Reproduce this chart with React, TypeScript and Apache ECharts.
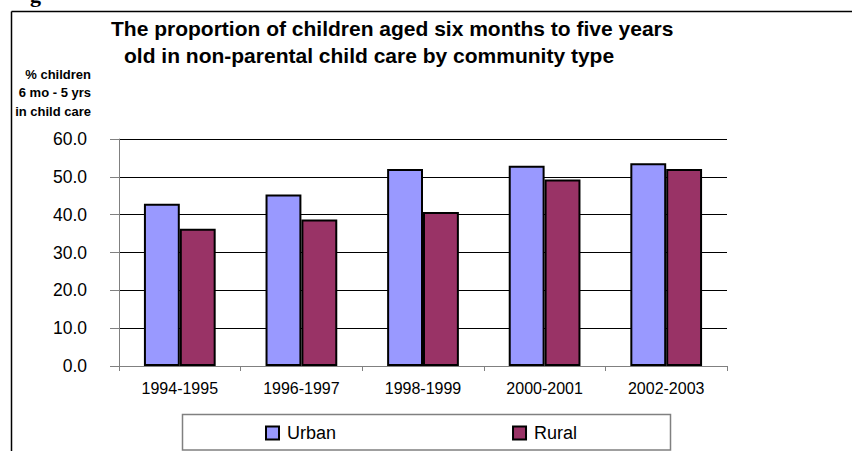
import React, { useEffect, useRef } from "react";
import * as echarts from "echarts";

const categories = ["1994-1995", "1996-1997", "1998-1999", "2000-2001", "2002-2003"];
const urban = [42.9, 45.3, 52.1, 52.9, 53.6];
const rural = [36.3, 38.7, 40.7, 49.3, 52.1];
const titleLines = [
  "The proportion of children aged six months to five years",
  "old in non-parental child care by community type",
];
const axisTitleLines = ["% children", "6 mo - 5 yrs", "in child care"];

const FONT = "Arial, 'Liberation Sans', sans-serif";

export default function App() {
  const ref = useRef<HTMLDivElement>(null);

  useEffect(() => {
    if (!ref.current) return;
    const chart = echarts.init(ref.current, null, { renderer: "svg" });
    chart.setOption({
      animation: false,
      backgroundColor: "#ffffff",
      textStyle: { fontFamily: FONT },
      grid: { left: 119, right: 125, top: 139, bottom: 85, containLabel: false },
      legend: {
        left: 265,
        top: 424,
        itemWidth: 13,
        itemHeight: 13,
        itemGap: 176,
        icon: "rect",
        padding: 0,
        textStyle: { fontSize: 18, color: "#000", fontFamily: FONT, padding: [0, 0, 0, 3] },
        data: ["Urban", "Rural"],
      },
      xAxis: {
        type: "category",
        data: categories,
        axisLine: { show: true, lineStyle: { color: "#808080", width: 1 } },
        axisTick: { show: true, length: 5, interval: 0, lineStyle: { color: "#808080" } },
        axisLabel: { fontSize: 16, color: "#000", margin: 14, interval: 0 },
        splitLine: { show: false },
      },
      yAxis: {
        type: "value",
        min: 0,
        max: 60,
        interval: 10,
        axisLine: { show: true, lineStyle: { color: "#808080", width: 1 } },
        axisTick: { show: true, length: 9, lineStyle: { color: "#808080" } },
        axisLabel: {
          fontSize: 17.5,
          color: "#000",
          margin: 32,
          formatter: (v: number) => v.toFixed(1),
        },
        splitLine: { show: true, lineStyle: { color: "#000", width: 1 } },
      },
      series: [
        {
          name: "Urban",
          type: "bar",
          data: urban,
          barGap: "0%",
          barCategoryGap: "41%",
          itemStyle: { color: "#9999FF", borderColor: "#000", borderWidth: 2 },
        },
        {
          name: "Rural",
          type: "bar",
          data: rural,
          itemStyle: { color: "#993366", borderColor: "#000", borderWidth: 2 },
        },
      ],
      graphic: [
        {
          type: "text",
          left: 30,
          top: -17,
          style: {
            text: "g",
            font: "bold 22px 'Liberation Serif', serif",
            fill: "#000",
          },
        },
        {
          type: "line",
          shape: { x1: 11.5, y1: 11.5, x2: 852, y2: 11.5 },
          style: { stroke: "#000", lineWidth: 1.5 },
        },
        {
          type: "line",
          shape: { x1: 11.5, y1: 11.5, x2: 11.5, y2: 451 },
          style: { stroke: "#000", lineWidth: 1.5 },
        },
        {
          type: "text",
          x: 111,
          y: 28.3,
          style: {
            text: titleLines[0],
            font: `bold 21px ${FONT}`,
            fill: "#000",
            textAlign: "left",
            textVerticalAlign: "middle",
          },
        },
        {
          type: "text",
          x: 124,
          y: 55,
          style: {
            text: titleLines[1],
            font: `bold 21px ${FONT}`,
            fill: "#000",
            textAlign: "left",
            textVerticalAlign: "middle",
          },
        },
        ...axisTitleLines.map((t, i) => ({
          type: "text",
          x: 91,
          y: 74 + i * 18.5,
          style: {
            text: t,
            font: `bold 13px ${FONT}`,
            fill: "#000",
            textAlign: "right",
            textVerticalAlign: "middle",
          },
        })),
        {
          type: "rect",
          shape: { x: 182.5, y: 414.5, width: 488, height: 35.5 },
          style: { fill: "none", stroke: "#808080", lineWidth: 1.5 },
          z: -1,
        },
      ],
    });
    return () => chart.dispose();
  }, []);

  return (
    <div
      ref={ref}
      style={{ position: "fixed", left: 0, top: 0, width: 852, height: 451, background: "#fff" }}
    />
  );
}
